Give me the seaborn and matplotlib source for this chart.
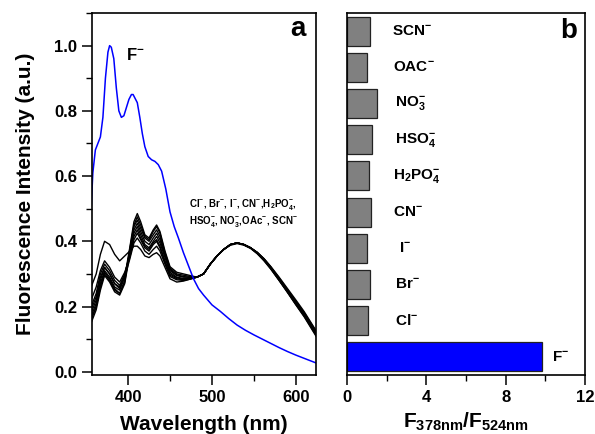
import numpy as np
import pandas as pd
import matplotlib
matplotlib.use("Agg")
import matplotlib.pyplot as plt
from matplotlib.ticker import MultipleLocator
import seaborn as sns

# ---------------- data ----------------
wl_black = [356, 362, 367, 372, 378, 384, 390, 396, 402, 407, 411, 415, 420, 425, 430, 434, 438,
            444, 450, 458, 466, 474, 482, 490, 498, 506, 514, 522, 530, 538, 546, 554, 562, 570,
            580, 590, 600, 610, 625]
curve_A = [0.26, 0.30, 0.36, 0.40, 0.39, 0.36, 0.34, 0.355, 0.37, 0.385, 0.385, 0.375, 0.355, 0.35, 0.36, 0.365, 0.355,
           0.32, 0.285, 0.275, 0.278, 0.284, 0.29, 0.30, 0.33, 0.355, 0.375, 0.39, 0.395, 0.39, 0.38, 0.365, 0.345, 0.32,
           0.285, 0.25, 0.215, 0.18, 0.12]
curve_B = [0.17, 0.21, 0.27, 0.31, 0.29, 0.26, 0.25, 0.29, 0.38, 0.46, 0.485, 0.46, 0.42, 0.41, 0.435, 0.45, 0.43,
           0.37, 0.322, 0.305, 0.30, 0.295, 0.29, 0.30, 0.33, 0.355, 0.375, 0.39, 0.395, 0.39, 0.38, 0.365, 0.345, 0.32,
           0.285, 0.25, 0.21, 0.175, 0.115]
curve_C = [0.16, 0.20, 0.26, 0.30, 0.28, 0.25, 0.24, 0.28, 0.375, 0.45, 0.475, 0.45, 0.415, 0.405, 0.43, 0.445, 0.425,
           0.365, 0.318, 0.30, 0.296, 0.292, 0.29, 0.30, 0.33, 0.355, 0.375, 0.39, 0.395, 0.39, 0.38, 0.363, 0.343, 0.318,
           0.282, 0.245, 0.208, 0.172, 0.11]
curve_D = [0.18, 0.22, 0.28, 0.32, 0.30, 0.27, 0.255, 0.295, 0.365, 0.435, 0.455, 0.43, 0.40, 0.39, 0.41, 0.425, 0.405,
           0.355, 0.31, 0.295, 0.29, 0.29, 0.29, 0.30, 0.33, 0.355, 0.375, 0.39, 0.395, 0.39, 0.38, 0.365, 0.345, 0.32,
           0.285, 0.248, 0.212, 0.176, 0.113]
curve_E = [0.15, 0.19, 0.25, 0.295, 0.275, 0.245, 0.235, 0.27, 0.36, 0.425, 0.445, 0.42, 0.39, 0.38, 0.40, 0.415, 0.395,
           0.35, 0.305, 0.29, 0.286, 0.287, 0.29, 0.30, 0.33, 0.355, 0.375, 0.388, 0.393, 0.388, 0.378, 0.362, 0.34, 0.315,
           0.28, 0.243, 0.205, 0.168, 0.105]
curve_F = [0.20, 0.24, 0.30, 0.33, 0.31, 0.28, 0.265, 0.30, 0.355, 0.415, 0.435, 0.41, 0.385, 0.375, 0.395, 0.405, 0.385,
           0.34, 0.30, 0.288, 0.284, 0.286, 0.29, 0.30, 0.33, 0.355, 0.375, 0.39, 0.395, 0.39, 0.38, 0.366, 0.346, 0.322,
           0.288, 0.252, 0.216, 0.18, 0.118]
curve_G = [0.19, 0.23, 0.29, 0.32, 0.30, 0.27, 0.26, 0.29, 0.345, 0.395, 0.41, 0.395, 0.37, 0.36, 0.375, 0.385, 0.37,
           0.33, 0.292, 0.282, 0.28, 0.284, 0.29, 0.30, 0.33, 0.355, 0.375, 0.39, 0.395, 0.39, 0.38, 0.364, 0.344, 0.319,
           0.284, 0.247, 0.21, 0.174, 0.112]
curve_H = [0.22, 0.26, 0.31, 0.34, 0.32, 0.29, 0.275, 0.305, 0.35, 0.405, 0.425, 0.405, 0.38, 0.37, 0.39, 0.40, 0.38,
           0.335, 0.296, 0.285, 0.282, 0.285, 0.29, 0.30, 0.33, 0.355, 0.375, 0.39, 0.395, 0.39, 0.38, 0.366, 0.347, 0.323,
           0.29, 0.255, 0.22, 0.184, 0.122]
curve_I = [0.16, 0.20, 0.26, 0.305, 0.285, 0.255, 0.24, 0.275, 0.37, 0.445, 0.465, 0.44, 0.41, 0.40, 0.42, 0.435, 0.415,
           0.36, 0.314, 0.297, 0.292, 0.289, 0.29, 0.30, 0.33, 0.355, 0.375, 0.39, 0.395, 0.39, 0.38, 0.362, 0.342, 0.316,
           0.28, 0.244, 0.206, 0.17, 0.108]

wl_blue = [356, 358, 361, 364, 367, 370, 373, 376, 378, 380, 383, 386, 389, 392, 395, 398, 401, 404, 406, 408,
           411, 414, 417, 420, 424, 428, 432, 436, 440, 445, 450, 455, 460, 466, 472, 478, 484, 490, 500, 510,
           520, 530, 540, 550, 560, 570, 580, 590, 600, 610, 625]
fluoride = [0.50, 0.61, 0.68, 0.70, 0.72, 0.78, 0.90, 0.98, 1.0, 0.995, 0.96, 0.87, 0.80, 0.78, 0.785, 0.81,
            0.835, 0.85, 0.85, 0.84, 0.825, 0.78, 0.73, 0.69, 0.66, 0.65, 0.645, 0.635, 0.615, 0.56, 0.49,
            0.445, 0.41, 0.365, 0.325, 0.285, 0.255, 0.235, 0.205, 0.185, 0.163, 0.143, 0.127, 0.113, 0.10,
            0.087, 0.074, 0.062, 0.051, 0.041, 0.026]

anions = ["SCN$^{-}$", "OAC$^{-}$", "NO$_{3}^{-}$", "HSO$_{4}^{-}$", "H$_{2}$PO$_{4}^{-}$",
          "CN$^{-}$", "I$^{-}$", "Br$^{-}$", "Cl$^{-}$", "F$^{-}$"]
ratios = [1.14, 1.03, 1.53, 1.28, 1.09, 1.19, 1.03, 1.14, 1.04, 9.83]
bar_colors = ["#808080"] * 9 + ["#0000ff"]

# ---------------- style ----------------
sns.set_style("ticks")
plt.rcParams["font.family"] = ["Liberation Sans", "DejaVu Sans"]
plt.rcParams["font.weight"] = "bold"
plt.rcParams["axes.labelweight"] = "bold"
plt.rcParams["text.color"] = "black"
plt.rcParams["axes.labelcolor"] = "black"
plt.rcParams["xtick.color"] = "black"
plt.rcParams["ytick.color"] = "black"
plt.rcParams["mathtext.fontset"] = "custom"
plt.rcParams["mathtext.rm"] = "Liberation Sans:bold"
plt.rcParams["mathtext.it"] = "Liberation Sans:bold"
plt.rcParams["mathtext.bf"] = "Liberation Sans:bold"
plt.rcParams["mathtext.sf"] = "Liberation Sans:bold"

fig = plt.figure(figsize=(5.95, 4.34), dpi=100)
ax1 = fig.add_axes([92 / 595, 1 - 375 / 434, 224 / 595, 362 / 434])
ax2 = fig.add_axes([347 / 595, 1 - 375 / 434, 238 / 595, 362 / 434])

# ---------------- panel a ----------------
curves = [curve_A, curve_B, curve_C, curve_D, curve_E, curve_F, curve_G, curve_H, curve_I]
rows = []
for i, c in enumerate(curves):
    for w, v in zip(wl_black, c):
        rows.append({"wl": w, "I": v, "id": f"c{i}"})
df_black = pd.DataFrame(rows)
sns.lineplot(data=df_black, x="wl", y="I", hue="id", palette=["black"] * 9,
             estimator=None, sort=False, linewidth=1.0, legend=False, ax=ax1)
df_blue = pd.DataFrame({"wl": wl_blue, "I": fluoride})
sns.lineplot(data=df_blue, x="wl", y="I", color="#0000ff", linewidth=1.1,
             estimator=None, sort=False, ax=ax1)

ax1.set_xlim(357, 624)
ax1.set_ylim(-0.01, 1.10)
ax1.xaxis.set_major_locator(MultipleLocator(100))
ax1.xaxis.set_minor_locator(MultipleLocator(50))
ax1.yaxis.set_minor_locator(MultipleLocator(0.1))
ax1.set_yticks([0.0, 0.2, 0.4, 0.6, 0.8, 1.0])
ax1.set_yticklabels(["0.0", "0.2", "0.4", "0.6", "0.8", "1.0"])
ax1.set_xlabel("Wavelength (nm)", fontsize=15, fontweight="bold", labelpad=7.5)
ax1.set_ylabel("Fluorescence Intensity (a.u.)", fontsize=15, fontweight="bold", labelpad=14)
ax1.text(398, 0.97, "F$^{-}$", fontsize=12, fontweight="bold", va="center", ha="left")
ax1.text(473, 0.514, "Cl$^{-}$, Br$^{-}$, I$^{-}$, CN$^{-}$,H$_{2}$PO$_{4}^{-}$,",
         fontsize=7, fontweight="bold", va="center", ha="left")
ax1.text(473, 0.46, "HSO$_{4}^{-}$, NO$_{3}^{-}$,OAc$^{-}$, SCN$^{-}$",
         fontsize=7, fontweight="bold", va="center", ha="left")
ax1.text(0.92, 0.955, "a", transform=ax1.transAxes, fontsize=20, fontweight="bold",
         ha="center", va="center")

# ---------------- panel b ----------------
df_bar = pd.DataFrame({"anion": anions, "ratio": ratios})
sns.barplot(data=df_bar, y="anion", x="ratio", hue="anion", palette=bar_colors,
            order=anions, orient="h", width=0.8, edgecolor="#222222", linewidth=0.9,
            saturation=1, legend=False, ax=ax2)
ax2.set_xlim(0, 12)
ax2.set_ylim(9.5, -0.5)
ax2.xaxis.set_major_locator(MultipleLocator(4))
ax2.xaxis.set_minor_locator(MultipleLocator(2))
ax2.set_yticks([])
ax2.set_ylabel("")
ax2.set_xlabel("F$_{378nm}$/F$_{524nm}$", fontsize=15, fontweight="bold", labelpad=4.5)
label_x = [2.28, 2.34, 2.4, 2.4, 2.34, 2.34, 2.6, 2.4, 2.4, 10.34]
for i, (lab, lx) in enumerate(zip(anions, label_x)):
    ax2.text(lx, i, lab, fontsize=11, fontweight="bold", va="center", ha="left")
ax2.text(0.93, 0.95, "b", transform=ax2.transAxes, fontsize=20, fontweight="bold",
         ha="center", va="center")

for ax in (ax1, ax2):
    for s in ax.spines.values():
        s.set_visible(True)
        s.set_linewidth(1.2)
        s.set_color("black")
    ax.tick_params(which="major", direction="out", length=7, width=1.1, labelsize=12,
                   top=False, right=False)
    ax.tick_params(which="minor", direction="out", length=4, width=1.0, top=False, right=False)
    for t in ax.get_xticklabels() + ax.get_yticklabels():
        t.set_fontweight("bold")
ax2.tick_params(axis="y", which="both", left=False)

fig.savefig("out.png", dpi=100)
